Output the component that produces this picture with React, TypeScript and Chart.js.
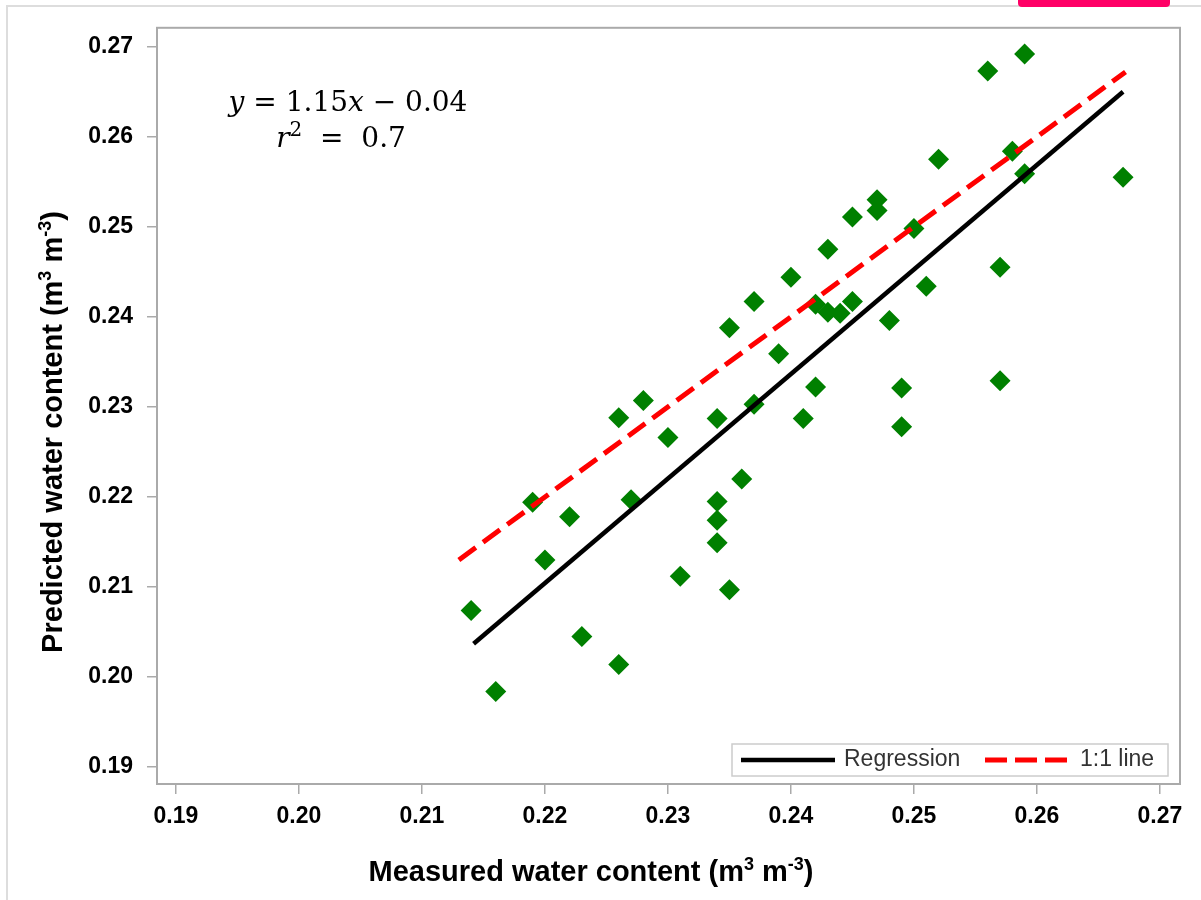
import React, { useEffect, useRef } from 'react';
import { Chart, registerables } from 'chart.js';

Chart.register(...registerables);

// ---- data ----
const measured = [
  0.214, 0.216, 0.219, 0.220, 0.222, 0.223, 0.226, 0.226, 0.227, 0.228,
  0.230, 0.231, 0.234, 0.234, 0.234, 0.234, 0.235, 0.235, 0.236, 0.237,
  0.237, 0.239, 0.240, 0.241, 0.242, 0.242, 0.243, 0.243, 0.244, 0.245,
  0.245, 0.247, 0.247, 0.248, 0.249, 0.249, 0.250, 0.251, 0.252, 0.256,
  0.257, 0.257, 0.258, 0.259, 0.259, 0.267,
];
const predicted = [
  0.2074, 0.1984, 0.2194, 0.2130, 0.2178, 0.2045, 0.2014, 0.2288, 0.2197, 0.2307,
  0.2266, 0.2112, 0.2287, 0.2195, 0.2174, 0.2149, 0.2388, 0.2097, 0.2220, 0.2417,
  0.2303, 0.2359, 0.2444, 0.2287, 0.2414, 0.2322, 0.2475, 0.2405, 0.2404, 0.2511,
  0.2417, 0.2530, 0.2518, 0.2396, 0.2321, 0.2278, 0.2498, 0.2434, 0.2575, 0.2673,
  0.2455, 0.2329, 0.2584, 0.2692, 0.2559, 0.2555,
];
const regressionX = [0.2142, 0.2670];
const regressionY = [0.2037, 0.2650];
const oneToOneX = [0.2130, 0.2672];
const seriesLabels = ['Regression', '1:1 line'];
const xTicks = [0.19, 0.20, 0.21, 0.22, 0.23, 0.24, 0.25, 0.26, 0.27];
const yTicks = [0.19, 0.20, 0.21, 0.22, 0.23, 0.24, 0.25, 0.26, 0.27];
const xRange = [0.18846, 0.27163];
const yRange = [0.18812, 0.2721];
const xTitle = [{ t: 'Measured water content (m' }, { t: '3', sup: true }, { t: ' m' }, { t: '-3', sup: true }, { t: ')' }];
const yTitle = [{ t: 'Predicted water content (m' }, { t: '3', sup: true }, { t: ' m' }, { t: '-3', sup: true }, { t: ')' }];
const equationLine1 = [{ t: 'y', it: true }, { t: ' = 1.15' }, { t: 'x', it: true }, { t: ' \u2212 0.04' }];
const equationLine2 = [{ t: 'r', it: true }, { t: '2', sup: true }, { t: '  =  0.7' }];

type Seg = { t: string; sup?: boolean; it?: boolean };

const SANS = '"Liberation Sans", Arial, sans-serif';
const SERIF = '"DejaVu Serif", "Liberation Serif", serif';

function segFont(s: Seg, size: number, weight: string, family: string, supScale: number) {
  const sz = s.sup ? Math.round(size * supScale) : size;
  return `${s.it ? 'italic ' : ''}${weight} ${sz}px ${family}`;
}

function drawRich(ctx: CanvasRenderingContext2D, segs: Seg[], cx: number, cy: number, size: number, weight: string, family: string, color: string, supScale = 0.62) {
  let total = 0;
  const widths = segs.map((s) => {
    ctx.font = segFont(s, size, weight, family, supScale);
    const w = ctx.measureText(s.t).width;
    total += w;
    return w;
  });
  let x = cx - total / 2;
  ctx.fillStyle = color;
  ctx.textAlign = 'left';
  ctx.textBaseline = 'alphabetic';
  const base = cy + size * 0.36;
  segs.forEach((s, i) => {
    ctx.font = segFont(s, size, weight, family, supScale);
    ctx.fillText(s.t, x, s.sup ? base - size * 0.4 : base);
    x += widths[i];
  });
}

const decorPlugin = {
  id: 'decor',
  afterDraw(chart: any) {
    const ctx: CanvasRenderingContext2D = chart.ctx;
    const a = chart.chartArea;
    ctx.save();
    // frame
    ctx.strokeStyle = '#aaaaaa';
    ctx.lineWidth = 2;
    ctx.strokeRect(a.left, a.top, a.right - a.left, a.bottom - a.top);

    // equation
    drawRich(ctx, equationLine1, 348, 101, 28, 'normal', SERIF, '#000', 0.7);
    drawRich(ctx, equationLine2, 341, 137, 28, 'normal', SERIF, '#000', 0.7);

    // axis titles
    drawRich(ctx, xTitle, 591, 871, 29, 'bold', SANS, '#000');
    ctx.save();
    ctx.translate(52, 432);
    ctx.rotate(-Math.PI / 2);
    drawRich(ctx, yTitle, 0, 0, 29, 'bold', SANS, '#000');
    ctx.restore();

    // legend inside bottom-right
    const lw = 436, lh = 32;
    const lx = a.right - 12 - lw;
    const ly = a.bottom - 8 - lh;
    ctx.fillStyle = '#fff';
    ctx.fillRect(lx, ly, lw, lh);
    ctx.strokeStyle = '#cccccc';
    ctx.lineWidth = 1.5;
    ctx.strokeRect(lx, ly, lw, lh);
    const my = ly + lh / 2;
    ctx.lineWidth = 4.5;
    ctx.strokeStyle = '#000';
    ctx.beginPath();
    ctx.moveTo(lx + 9, my);
    ctx.lineTo(lx + 103, my);
    ctx.stroke();
    ctx.font = `normal 23px ${SANS}`;
    ctx.fillStyle = '#333';
    ctx.textAlign = 'left';
    ctx.textBaseline = 'middle';
    ctx.fillText(seriesLabels[0], lx + 112, my);
    ctx.strokeStyle = '#ff0000';
    ctx.lineWidth = 5;
    ctx.setLineDash([22, 8]);
    ctx.beginPath();
    ctx.moveTo(lx + 253, my);
    ctx.lineTo(lx + 335, my);
    ctx.stroke();
    ctx.setLineDash([]);
    ctx.fillText(seriesLabels[1], lx + 348, my);
    ctx.restore();
  },
};

export default function App() {
  const ref = useRef<HTMLCanvasElement | null>(null);
  useEffect(() => {
    if (!ref.current) return;
    const tickFont = { family: SANS, size: 23, weight: 'bold' as const };
    const chart = new Chart(ref.current, {
      type: 'scatter',
      data: {
        datasets: [
          {
            label: seriesLabels[0],
            data: regressionX.map((x, i) => ({ x, y: regressionY[i] })),
            showLine: true,
            borderColor: '#000000',
            borderWidth: 4.5,
            pointRadius: 0,
          },
          {
            label: seriesLabels[1],
            data: oneToOneX.map((v) => ({ x: v, y: v })),
            showLine: true,
            borderColor: '#ff0000',
            borderWidth: 5,
            borderDash: [21, 9],
            pointRadius: 0,
          },
          {
            label: 'Observed',
            data: measured.map((x, i) => ({ x, y: predicted[i] })),
            pointStyle: 'rectRot',
            pointRadius: 10.5,
            backgroundColor: '#008000',
            borderColor: '#008000',
            borderWidth: 0,
          },
        ],
      },
      options: {
        animation: false,
        responsive: false,
        layout: { padding: { left: 0, top: 25, right: 21, bottom: 0 } },
        plugins: { legend: { display: false }, tooltip: { enabled: false } },
        scales: {
          x: {
            type: 'linear',
            min: xRange[0],
            max: xRange[1],
            afterBuildTicks: (s: any) => { s.ticks = xTicks.map((v) => ({ value: v })); },
            afterFit: (s: any) => { s.height = 116; },
            ticks: { font: tickFont, color: '#000', padding: 9, autoSkip: false, maxRotation: 0, callback: (v: any) => Number(v).toFixed(2) },
            grid: { drawOnChartArea: false, drawTicks: true, tickLength: 10, color: '#aaaaaa', lineWidth: 1.5 },
            border: { display: false },
          },
          y: {
            type: 'linear',
            min: yRange[0],
            max: yRange[1],
            afterBuildTicks: (s: any) => { s.ticks = yTicks.map((v) => ({ value: v })); },
            afterFit: (s: any) => { s.width = 157; },
            ticks: { font: tickFont, color: '#000', padding: 14, autoSkip: false, callback: (v: any) => Number(v).toFixed(2) },
            grid: { drawOnChartArea: false, drawTicks: true, tickLength: 10, color: '#aaaaaa', lineWidth: 1.5 },
            border: { display: false },
          },
        },
      },
      plugins: [decorPlugin],
    } as any);
    return () => chart.destroy();
  }, []);

  return (
    <div style={{ position: 'fixed', left: 0, top: 0, width: 1201, height: 900, background: '#fff', overflow: 'hidden' }}>
      <div style={{ position: 'absolute', left: 6, top: 5, width: 1195, height: 895, borderLeft: '2px solid #dddddd', borderTop: '2px solid #dddddd' }} />
      <div style={{ position: 'absolute', left: 1018, top: 0, width: 152, height: 7, background: '#ff0066', borderBottomLeftRadius: 4, borderBottomRightRadius: 4 }} />
      <canvas ref={ref} width={1201} height={900} style={{ position: 'absolute', left: 0, top: 0, width: 1201, height: 900 }} />
    </div>
  );
}
